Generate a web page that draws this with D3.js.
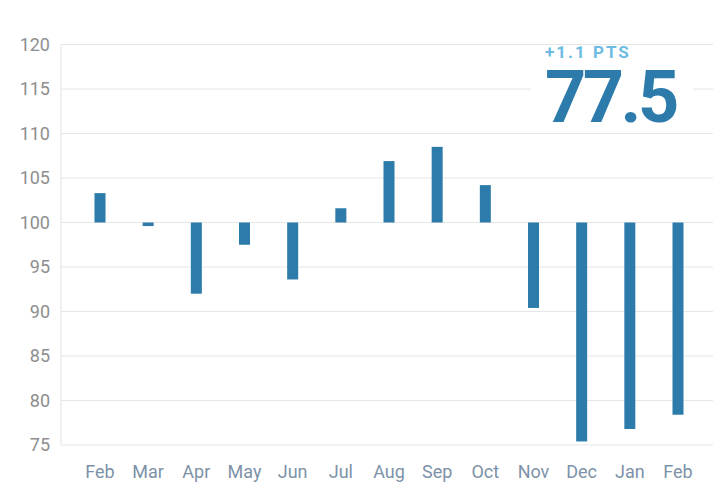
<!DOCTYPE html>
<html>
<head>
<meta charset="utf-8">
<script src="https://cdn.jsdelivr.net/npm/d3@7"></script>
<style>
  body { margin: 0; background: #fff; }
  svg { display: block; }
  .ylab { font-family: Roboto, "Noto Sans", sans-serif; font-size: 18px; fill: #8e8e8e; }
  .xlab { font-family: Roboto, "Noto Sans", sans-serif; font-size: 18px; fill: #7d92a8; }
</style>
</head>
<body>
<script>
(function(){

//months along the bottom (Feb appears twice)
var months = ["Feb", "Mar", "Apr", "May", "Jun", "Jul", "Aug", "Sep", "Oct", "Nov", "Dec", "Jan", "Feb"];
//index values, bars are drawn from the 100 baseline
var values = [103.3, 99.6, 92.0, 97.5, 93.6, 101.6, 106.9, 108.5, 104.2, 90.4, 75.4, 76.8, 78.4];
var yTicks = [75, 80, 85, 90, 95, 100, 105, 110, 115, 120];
var baseline = 100;
var headline = "77.5",
    change = "+1.1 PTS";

//frame
var width = 727,
    height = 498;

var svg = d3.select("body")
    .append("svg")
    .attr("width", width)
    .attr("height", height);

var yScale = d3.scaleLinear()
    .domain([75, 120])
    .range([445, 44.5]);

var xScale = d3.scalePoint()
    .domain(d3.range(months.length))
    .range([100, 678]);

var plotLeft = 61,
    plotRight = 713,
    barWidth = 11;

//gridlines
svg.selectAll(".grid")
    .data(yTicks)
    .enter()
    .append("line")
    .attr("class", "grid")
    .attr("x1", plotLeft)
    .attr("x2", plotRight)
    .attr("y1", function(d){ return yScale(d); })
    .attr("y2", function(d){ return yScale(d); })
    .attr("stroke", "#e6e6e6")
    .attr("stroke-width", 1.2);

//left axis line
svg.append("line")
    .attr("x1", plotLeft)
    .attr("x2", plotLeft)
    .attr("y1", yScale(120))
    .attr("y2", yScale(75))
    .attr("stroke", "#e6e6e6")
    .attr("stroke-width", 1.2);

//y tick labels
svg.selectAll(".ylab")
    .data(yTicks)
    .enter()
    .append("text")
    .attr("class", "ylab")
    .attr("x", 50)
    .attr("y", function(d){ return yScale(d); })
    .attr("dy", "0.35em")
    .attr("text-anchor", "end")
    .text(function(d){ return d; });

//x labels
svg.selectAll(".xlab")
    .data(months)
    .enter()
    .append("text")
    .attr("class", "xlab")
    .attr("x", function(d, i){ return xScale(i); })
    .attr("y", 478)
    .attr("text-anchor", "middle")
    .text(function(d){ return d; });

//bars
svg.selectAll(".bar")
    .data(values)
    .enter()
    .append("rect")
    .attr("class", "bar")
    .attr("x", function(d, i){ return xScale(i) - barWidth / 2; })
    .attr("width", barWidth)
    .attr("y", function(d){ return yScale(Math.max(d, baseline)); })
    .attr("height", function(d){ return Math.abs(yScale(d) - yScale(baseline)); })
    .attr("fill", "#2c7bab");

//headline block with white backing
svg.append("rect")
    .attr("x", 531)
    .attr("y", 52)
    .attr("width", 162)
    .attr("height", 76)
    .attr("fill", "#fff");

svg.append("text")
    .attr("x", 545)
    .attr("y", 58)
    .style("font-family", "Roboto, sans-serif")
    .style("font-weight", "bold")
    .style("font-size", "17px")
    .style("letter-spacing", "2px")
    .attr("fill", "#6dbbe0")
    .text(change);

svg.append("text")
    .attr("x", 545)
    .attr("y", 122)
    .style("font-family", "Roboto, sans-serif")
    .style("font-weight", "bold")
    .style("font-size", "72px")
    .style("letter-spacing", "-3.5px")
    .attr("fill", "#2c7bab")
    .text(headline);

})();
</script>
</body>
</html>
